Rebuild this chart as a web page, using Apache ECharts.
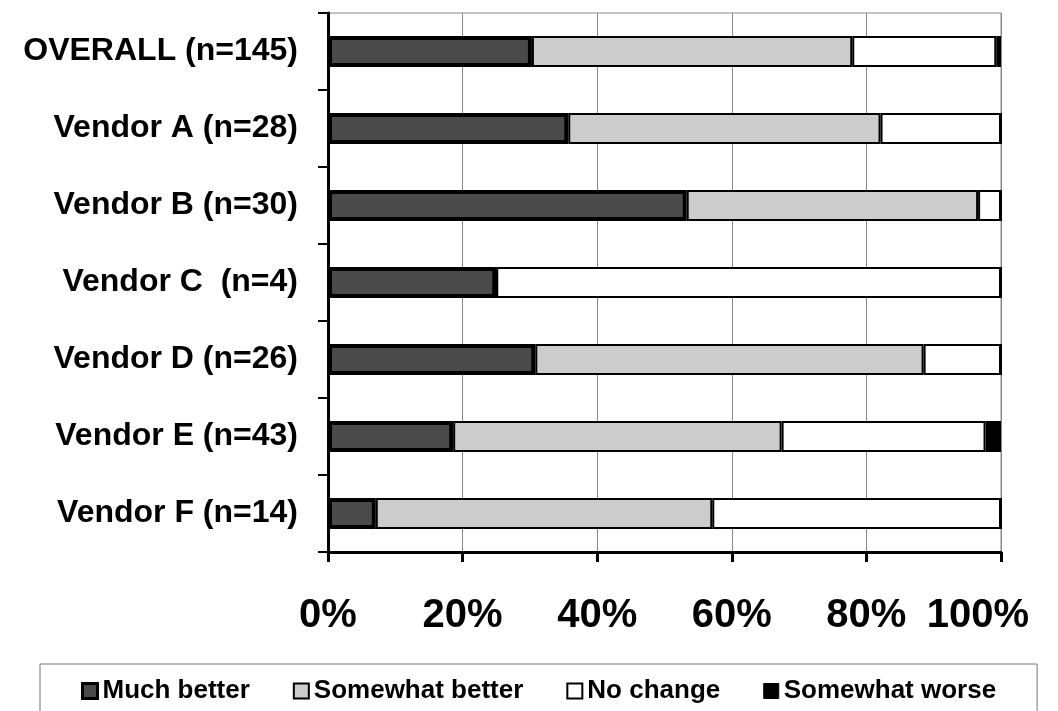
<!DOCTYPE html>
<html>
<head>
<meta charset="utf-8">
<script src="https://cdn.jsdelivr.net/npm/echarts@6/dist/echarts.min.js"></script>
<style>
html,body{margin:0;padding:0;background:#fff;}
#chart{width:1058px;height:711px;}
</style>
</head>
<body>
<div id="chart"></div>
<script>
const categories = ['OVERALL (n=145)', 'Vendor A (n=28)', 'Vendor B (n=30)', 'Vendor C  (n=4)', 'Vendor D (n=26)', 'Vendor E (n=43)', 'Vendor F (n=14)'];
const muchBetter     = [30.3, 35.7, 53.3, 25.0, 30.8, 18.6, 7.1];
const somewhatBetter = [47.6, 46.4, 43.3, 0,    57.7, 48.8, 50.0];
const noChange       = [21.4, 17.9, 3.4,  75.0, 11.5, 30.3, 42.9];
const somewhatWorse  = [0.7,  0,    0,    0,    0,    2.3,  0];
const xTicks = [0, 20, 40, 60, 80, 100];

const FONT = "'Liberation Sans', Arial, sans-serif";
const chart = echarts.init(document.getElementById('chart'));

function bar(name, data, color, bw) {
  return {
    name: name, type: 'bar', stack: 'total', data: data,
    barWidth: 31,
    itemStyle: { color: color, borderColor: '#000', borderWidth: bw },
    emphasis: { disabled: true }
  };
}

chart.setOption({
  backgroundColor: '#fff',
  animation: false,
  grid: { left: 328, right: 57, top: 13, bottom: 159, show: true, borderColor: '#888', borderWidth: 1, backgroundColor: 'transparent' },
  xAxis: {
    type: 'value', min: 0, max: 100, interval: 20,
    axisLine: { show: true, lineStyle: { color: '#000', width: 3 } },
    axisTick: { show: true, length: 10, lineStyle: { color: '#000', width: 3 } },
    splitLine: { show: true, lineStyle: { color: '#888', width: 1 } },
    axisLabel: {
      margin: 44, color: '#000', fontFamily: FONT, fontWeight: 'bold', fontSize: 40,
      formatter: function (v) { return v === xTicks[xTicks.length - 1] ? '{last|' + v + '%}' : v + '%'; },
      rich: { last: { fontFamily: FONT, fontWeight: 'bold', fontSize: 40, color: '#000', padding: [0, 46, 0, 0] } }
    }
  },
  yAxis: {
    type: 'category', data: categories, inverse: true,
    axisLine: { show: true, lineStyle: { color: '#000', width: 3 } },
    axisTick: { show: true, length: 10, lineStyle: { color: '#000', width: 2 } },
    axisLabel: { margin: 30, color: '#000', fontFamily: FONT, fontWeight: 'bold', fontSize: 32 }
  },
  legend: {
    left: 40, top: 664,
    padding: [14, 41, 40, 41],
    borderColor: '#777', borderWidth: 1,
    itemWidth: 15, itemHeight: 15, itemGap: 43,
    icon: 'rect',
    textStyle: { color: '#000', fontFamily: FONT, fontWeight: 'bold', fontSize: 26 },
    data: [
      { name: 'Much better', itemStyle: { color: '#4a4a4a', borderColor: '#000', borderWidth: 3 } },
      { name: 'Somewhat better', itemStyle: { color: '#cccccc', borderColor: '#000', borderWidth: 2 } },
      { name: 'No change', itemStyle: { color: '#fff', borderColor: '#000', borderWidth: 2 } },
      { name: 'Somewhat worse', itemStyle: { color: '#000', borderColor: '#000', borderWidth: 1 } }
    ]
  },
  series: [
    bar('Much better', muchBetter, '#4a4a4a', 4),
    bar('Somewhat better', somewhatBetter, '#cccccc', 2),
    bar('No change', noChange, '#ffffff', 2),
    bar('Somewhat worse', somewhatWorse, '#000000', 2)
  ]
});
</script>
</body>
</html>
